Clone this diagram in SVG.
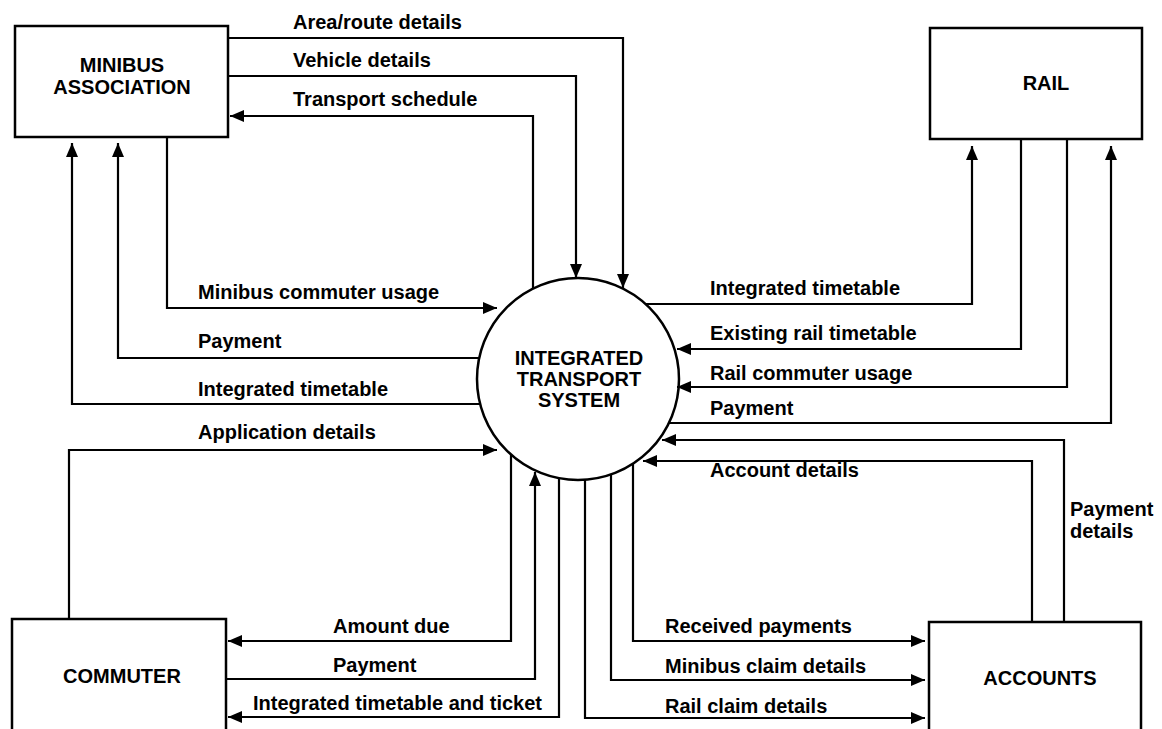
<svg xmlns="http://www.w3.org/2000/svg" width="1162" height="729" viewBox="0 0 1162 729">
<style>
.box{fill:#fff;stroke:#000;stroke-width:2.5}
.ent{font-family:"Liberation Sans",Arial,sans-serif;font-weight:bold;font-size:20px;fill:#000;text-anchor:middle}
.lbl{font-family:"Liberation Sans",Arial,sans-serif;font-weight:bold;font-size:20px;fill:#000}
.ln{fill:none;stroke:#000;stroke-width:2.2}
.arr{fill:none;stroke:#000;stroke-width:2.2;marker-end:url(#ah)}
</style>
<defs>
<marker id="ah" markerUnits="userSpaceOnUse" markerWidth="14" markerHeight="12" refX="14" refY="6" orient="auto">
<path d="M0,0 L14,6 L0,12 Z" fill="#000"/>
</marker>
</defs>
<rect width="1162" height="729" fill="#fff"/>

<g id="minibus">
<rect class="box" x="15" y="26" width="213" height="111"/>
<text class="ent" x="122" y="72">MINIBUS</text>
<text class="ent" x="122" y="94">ASSOCIATION</text>
</g>
<g id="rail">
<rect class="box" x="930" y="28" width="212" height="111"/>
<text class="ent" x="1046" y="90">RAIL</text>
</g>
<g id="commuter">
<rect class="box" x="12" y="619" width="214" height="120"/>
<text class="ent" x="122" y="683">COMMUTER</text>
</g>
<g id="accounts">
<rect class="box" x="929" y="622" width="212" height="120"/>
<text class="ent" x="1040" y="685">ACCOUNTS</text>
</g>
<g id="its">
<circle cx="578" cy="379" r="101" fill="#fff" stroke="#000" stroke-width="2.5"/>
<text class="ent" x="579" y="365">INTEGRATED</text>
<text class="ent" x="579" y="386">TRANSPORT</text>
<text class="ent" x="579" y="407">SYSTEM</text>
</g>

<g id="connectors">
<!-- minibus top -->
<path class="arr" d="M228,38 H623 V288"/>
<path class="arr" d="M228,76 H576 V278"/>
<path class="arr" d="M533,289 V116 H230"/>
<!-- minibus left -->
<path class="arr" d="M167,137 V308 H497"/>
<path class="arr" d="M479,358 H118 V143"/>
<path class="arr" d="M480,404 H72 V143"/>
<!-- commuter -->
<path class="arr" d="M69,619 V450 H497"/>
<path class="arr" d="M511,455 V641 H228"/>
<path class="arr" d="M226,679 H535 V472"/>
<path class="arr" d="M559,478 V717 H228"/>
<!-- accounts -->
<path class="arr" d="M585,480 V718 H925"/>
<path class="arr" d="M611,475 V680 H925"/>
<path class="arr" d="M633,464 V641 H925"/>
<path class="arr" d="M1064,622 V440 H662"/>
<path class="arr" d="M1032,622 V461 H643"/>
<!-- rail -->
<path class="arr" d="M646,304 H972 V146"/>
<path class="arr" d="M1021,139 V349 H677"/>
<path class="arr" d="M1067,139 V387 H677"/>
<path class="arr" d="M669,423 H1111 V146"/>
</g>

<g id="labels">
<text class="lbl" x="293" y="29">Area/route details</text>
<text class="lbl" x="293" y="67">Vehicle details</text>
<text class="lbl" x="293" y="106">Transport schedule</text>
<text class="lbl" x="198" y="299">Minibus commuter usage</text>
<text class="lbl" x="198" y="348">Payment</text>
<text class="lbl" x="198" y="396">Integrated timetable</text>
<text class="lbl" x="198" y="439">Application details</text>
<text class="lbl" x="710" y="295">Integrated timetable</text>
<text class="lbl" x="710" y="340">Existing rail timetable</text>
<text class="lbl" x="710" y="380">Rail commuter usage</text>
<text class="lbl" x="710" y="415">Payment</text>
<text class="lbl" x="710" y="477">Account details</text>
<text class="lbl" x="1070" y="516">Payment</text>
<text class="lbl" x="1070" y="538">details</text>
<text class="lbl" x="333" y="633">Amount due</text>
<text class="lbl" x="333" y="672">Payment</text>
<text class="lbl" x="542" y="710" text-anchor="end">Integrated timetable and ticket</text>
<text class="lbl" x="665" y="633">Received payments</text>
<text class="lbl" x="665" y="673">Minibus claim details</text>
<text class="lbl" x="665" y="713">Rail claim details</text>
</g>
</svg>
